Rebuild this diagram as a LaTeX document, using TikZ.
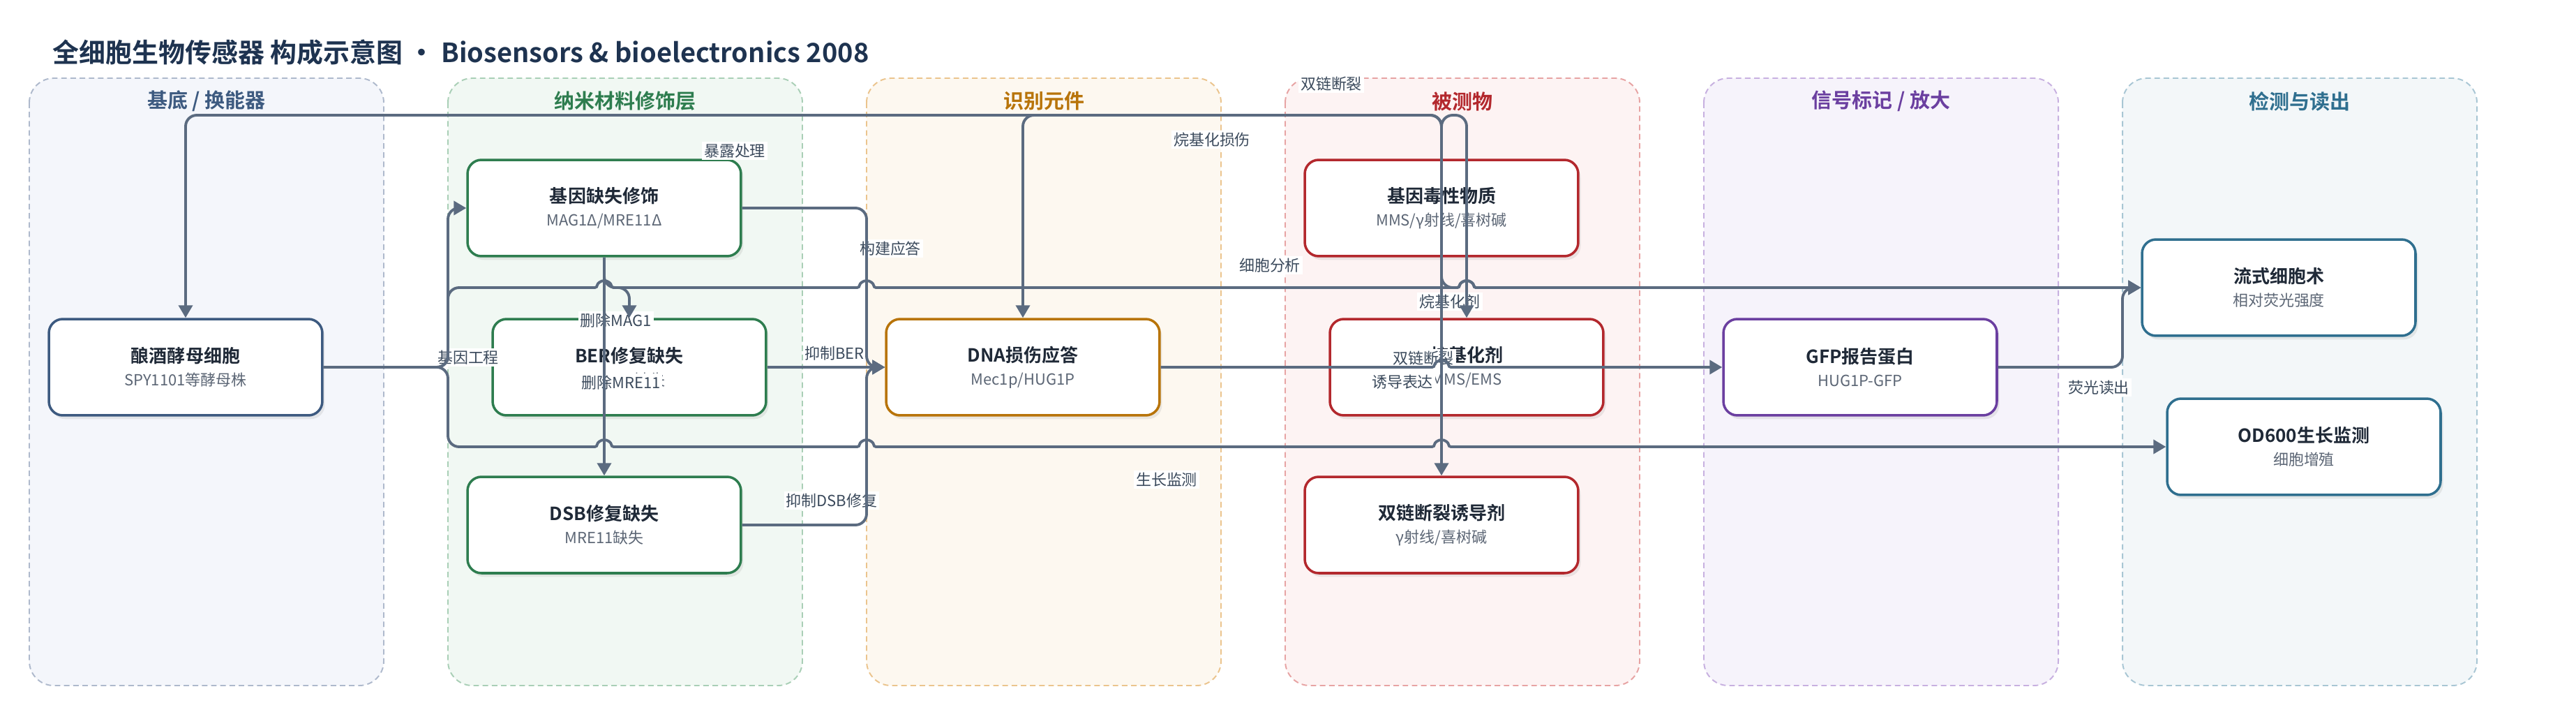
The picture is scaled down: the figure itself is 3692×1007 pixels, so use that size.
\documentclass[tikz,border=0pt]{standalone}
\usepackage{fontspec}
\setmainfont{Noto Sans CJK SC}[BoldFont={Noto Sans CJK SC Bold}]
\usetikzlibrary{arrows.meta,shadows}
\definecolor{ink}{HTML}{1F2937}
\definecolor{subink}{HTML}{5C6675}
\definecolor{tagink}{HTML}{3B4A5C}
\definecolor{wire}{HTML}{5B6B80}
\definecolor{titleink}{HTML}{1E3350}
\definecolor{lc0}{HTML}{3D5A80}\definecolor{lb0}{HTML}{AEB9CC}\definecolor{lf0}{HTML}{F4F6FB}
\definecolor{lc1}{HTML}{2E7D4F}\definecolor{lb1}{HTML}{A9CFB6}\definecolor{lf1}{HTML}{F1F8F3}
\definecolor{lc2}{HTML}{B8740A}\definecolor{lb2}{HTML}{EBC48D}\definecolor{lf2}{HTML}{FDF8F0}
\definecolor{lc3}{HTML}{B3282D}\definecolor{lb3}{HTML}{E7A3A3}\definecolor{lf3}{HTML}{FDF3F3}
\definecolor{lc4}{HTML}{6B3FA0}\definecolor{lb4}{HTML}{C7B0E0}\definecolor{lf4}{HTML}{F6F3FB}
\definecolor{lc5}{HTML}{2F6F8F}\definecolor{lb5}{HTML}{A8C6D4}\definecolor{lf5}{HTML}{F3F7F9}
\newcommand\ttl[1]{{\bfseries\fontsize{14.8}{18.8}\selectfont #1}}
\newcommand\subt[1]{{\color{subink}#1}}
\begin{document}
\begin{tikzpicture}[x=0.02cm, y=-0.02cm,
    lane/.style = {rounded corners=0.7cm, dash pattern=on 4.5pt off 3pt, line width=1.1pt},
    head/.style = {font=\bfseries\fontsize{16.5}{20}\selectfont},
    card/.style = {draw=#1, fill=white, line width=2pt, rounded corners=0.4cm,
                   minimum width=7.84cm, minimum height=2.76cm, align=center, text=ink,
                   font=\fontsize{12.5}{18.8}\selectfont,
                   drop shadow={shadow xshift=2pt, shadow yshift=-3pt, opacity=0.15}},
    wireline/.style = {draw=wire, line width=2.2pt, rounded corners=0.32cm,
                       -{Triangle[length=0.36cm,width=0.4cm]}},
    hop/.style 2 args = {insert path={[rounded corners=2pt] -- (#1-10,#2)
                         arc[start angle=180, end angle=0, radius=0.2cm] [rounded corners=0.32cm]}},
    tag/.style = {fill=white, inner sep=1.5pt, text=tagink, font=\fontsize{12.5}{15}\selectfont}]
\useasboundingbox (0,0) rectangle (3692,1007);
\fill[white] (0,0) rectangle (3692,1007);
\node[anchor=west, inner sep=0, text=titleink, font=\bfseries\fontsize{21.6}{25}\selectfont] (title) at (75,75)
    {全细胞生物传感器 构成示意图 • Biosensors \& bioelectronics 2008};
% swim lanes
\foreach \t [count=\i from 0] in {基底 / 换能器, 纳米材料修饰层, 识别元件, 被测物, 信号标记 / 放大, 检测与读出} {
    \draw[lane, draw=lb\i, fill=lf\i] (42+600*\i,112) rectangle (550+600*\i,982);
    \node[head, text=lc\i] (h\i) at (296+600*\i,145) {\t};
}
% cards
\node[card=lc0] (yeast)  at (266,526)  {\ttl{酿酒酵母细胞}\\\subt{SPY1101等酵母株}};
\node[card=lc1] (gdel)   at (866,298)  {\ttl{基因缺失修饰}\\\subt{MAG1Δ/MRE11Δ}};
\node[card=lc1] (ber)    at (902,526)  {\ttl{BER修复缺失}\\\subt{MAG1缺失}};
\node[card=lc1] (dsb)    at (866,752)  {\ttl{DSB修复缺失}\\\subt{MRE11缺失}};
\node[card=lc2] (dna)    at (1466,526) {\ttl{DNA损伤应答}\\\subt{Mec1p/HUG1P}};
\node[card=lc3] (tox)    at (2066,298) {\ttl{基因毒性物质}\\\subt{MMS/γ射线/喜树碱}};
\node[card=lc3] (alkyl)  at (2102,526) {\ttl{烷基化剂}\\\subt{MMS/EMS}};
\node[card=lc3] (dsbind) at (2066,752) {\ttl{双链断裂诱导剂}\\\subt{γ射线/喜树碱}};
\node[card=lc4] (gfp)    at (2666,526) {\ttl{GFP报告蛋白}\\\subt{HUG1P-GFP}};
\node[card=lc5] (flow)   at (3266,412) {\ttl{流式细胞术}\\\subt{相对荧光强度}};
\node[card=lc5] (od)     at (3302,640) {\ttl{OD600生长监测}\\\subt{细胞增殖}};
% connector labels
\node[tag] (t1)  at (1053,216) {暴露处理};
\node[tag] (t2)  at (1276,356) {构建应答};
\node[tag] (t3)  at (883,459)  {删除MAG1};
\node[tag] (t4)  at (671,512)  {基因工程};
\node[tag] (t5)  at (890,548)  {删除MRE11};
\node[tag] (t6)  at (1196,506) {抑制BER};
\node[tag] (t7)  at (1192,717) {抑制DSB修复};
\node[tag] (t8)  at (1737,200) {烷基化损伤};
\node[tag] (t9)  at (1908,120) {双链断裂};
\node[tag] (t10) at (1820,380) {细胞分析};
\node[tag] (t11) at (2078,432) {烷基化剂};
\node[tag] (t12) at (2040,513) {双链断裂};
\node[tag] (t13) at (2010,547) {诱导表达};
\node[tag] (t14) at (1672,687) {生长监测};
\node[tag] (t15) at (3008,555) {荧光读出};
% connectors
\draw[wireline] (yeast.east) -- (642,526) -- (642,298) -- (gdel.west);
\draw[wireline] (yeast.east) -- (642,526) -- (642,412) [hop={866}{412}] [hop={1242}{412}] [hop={2102}{412}] -- (flow.west);
\draw[wireline] (yeast.east) -- (642,526) -- (642,640) [hop={866}{640}] [hop={1242}{640}] [hop={2066}{640}] -- (od.west);
\draw[wireline] (gdel.south) -- (866,412) -- (902,412) -- (ber.north);
\draw[wireline] (gdel.south) -- (dsb.north);
\draw[wireline] (gdel.east) -- (1242,298) -- (1242,526) -- (dna.west);
\draw[wireline] (ber.east) -- (dna.west);
\draw[wireline] (dsb.east) -- (1242,752) -- (1242,526) -- (dna.west);
\draw[wireline] (dna.east) [hop={2066}{526}] -- (gfp.west);
\draw[wireline] (gfp.east) -- (3042,526) -- (3042,412) -- (flow.west);
\draw[wireline] (tox.north) -- (2066,165) -- (266,165) -- (yeast.north);
\draw[wireline] (tox.north) -- (2066,165) -- (1466,165) -- (dna.north);
\draw[wireline] (tox.north) -- (2066,165) -- (2102,165) -- (alkyl.north);
\draw[wireline] (tox.north) -- (dsbind.north);
\draw[wireline] (tox.south) -- (2066,412) [hop={2102}{412}] -- (flow.west);
\end{tikzpicture}
\end{document}
